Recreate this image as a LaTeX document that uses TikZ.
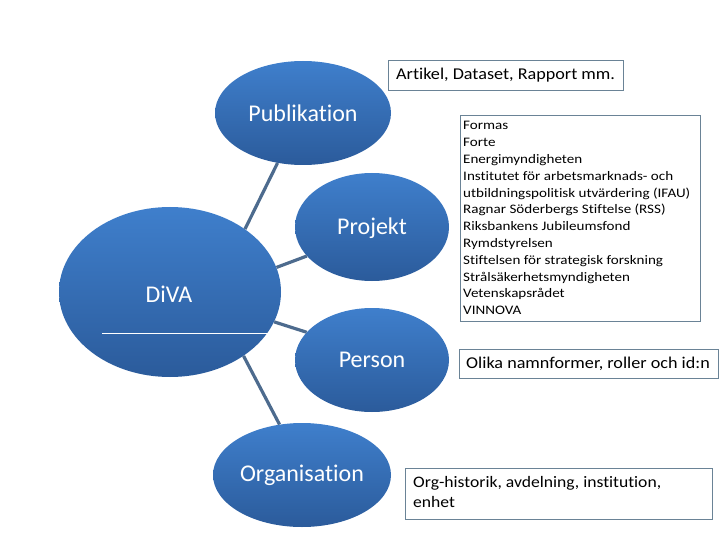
\documentclass[tikz,border=0pt]{standalone}
\usepackage{fontspec}
\usepackage{graphicx}
\setmainfont{Carlito}[Ligatures=NoCommon]
\usetikzlibrary{shapes.geometric}
\definecolor{blobtop}{HTML}{3F7FCC}
\definecolor{blobbot}{HTML}{2B5B9B}
\definecolor{linkcol}{HTML}{4D6B8E}
\definecolor{boxcol}{HTML}{6A8396}
\newcommand\hx[2]{\scalebox{#1}[1]{#2}}
\tikzset{
  blob/.style={ellipse, inner sep=0pt, top color=blobtop, bottom color=blobbot, draw=none},
  bloblabel/.style={text=white, inner sep=0pt, font=\fontsize{24}{28}\selectfont},
  link/.style={draw=linkcol, line width=3.2pt},
  infobox/.style={draw=boxcol, line width=0.9pt, fill=white, inner sep=0pt, anchor=north west},
  boxtext/.style={inner sep=0pt, anchor=west}
}
\begin{document}
\begin{tikzpicture}[x=1pt,y=-1pt]
\useasboundingbox (0,0) rectangle (720,540);
% ellipses
\node[blob, minimum width=176, minimum height=104] (pub) at (303,113) {};
\node[blob, minimum width=222, minimum height=170] (diva) at (170,292) {};
\node[blob, minimum width=154, minimum height=108] (proj) at (372,227) {};
\node[blob, minimum width=154, minimum height=104] (pers) at (372,360) {};
\node[blob, minimum width=178, minimum height=104] (org) at (302,475) {};
% connectors
\draw[link] (pub.243) -- (diva.40);
\draw[link] (diva.13) -- (proj.204);
\draw[link] (diva.344) -- (pers.157);
\draw[link] (diva.319) -- (org.114);
% labels in ellipses
\node[bloblabel] (pubt) at (303,113) {Publikation};
\node[bloblabel] (projt) at (372,228) {Projekt};
\node[bloblabel] (perst) at (372,360) {Person};
\node[bloblabel] (orgt) at (302,475) {Organisation};
\node[bloblabel] (divat) at (169,294) {DiVA};
% white line in DiVA
\coordinate (wl1) at (102,333);
\coordinate (wl2) at (268,333);
\draw[white, line width=1pt] (wl1) -- (wl2);
% boxes
\node[infobox, minimum width=235, minimum height=30] (art) at (388,60) {};
\node[boxtext, font=\fontsize{16.5}{20}\selectfont] (artt) at (396,75) {\hx{1.1}{Artikel, Dataset, Rapport mm.}};
\node[infobox, minimum width=240, minimum height=206] (fund) at (460,115) {};
\node[inner sep=0pt, anchor=north west, font=\fontsize{13}{16.8}\selectfont] (fundt) at (463,118) {\hx{1.16}{\begin{tabular}{@{}l@{}}Formas\\Forte\\Energimyndigheten\\Institutet för arbetsmarknads- och\\utbildningspolitisk utvärdering (IFAU)\\Ragnar Söderbergs Stiftelse (RSS)\\Riksbankens Jubileumsfond\\Rymdstyrelsen\\Stiftelsen för strategisk forskning\\Strålsäkerhetsmyndigheten\\Vetenskapsrådet\\VINNOVA\end{tabular}}};
\node[infobox, minimum width=259, minimum height=29] (olika) at (459,349) {};
\node[boxtext, font=\fontsize{16.5}{20}\selectfont] (olikat) at (466,364) {\hx{1.1}{Olika namnformer, roller och id:n}};
\node[infobox, minimum width=307, minimum height=51] (orgb) at (405,468) {};
\node[inner sep=0pt, anchor=north west, font=\fontsize{16}{20}\selectfont] (orgbt) at (413,473) {\hx{1.1}{\begin{tabular}{@{}l@{}}Org-historik, avdelning, institution,\\enhet\end{tabular}}};
\end{tikzpicture}
\end{document}
